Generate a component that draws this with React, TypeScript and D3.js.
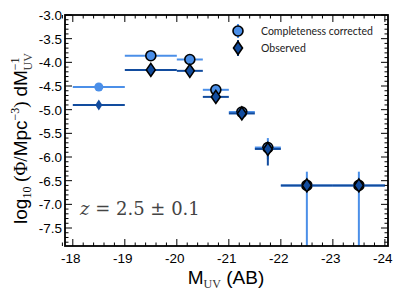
import React, { useRef, useEffect } from "react";
import * as d3 from "d3";

// UV luminosity function bins
const magCenters = [-18.5, -19.5, -20.25, -20.75, -21.25, -21.75, -22.5, -23.5];
const binFaint = [-18, -19, -20, -20.5, -21, -21.5, -22, -23];
const binBright = [-19, -20, -20.5, -21, -21.5, -22, -23, -24];

// completeness corrected log10 phi and error range
const phiCorrected = [-4.52, -3.86, -3.94, -4.58, -5.05, -5.8, -6.6, -6.6];
const phiCorrectedUpper = [-4.52, -3.86, -3.94, -4.58, -5.05, -5.6, -6.31, -6.31];
const phiCorrectedLower = [-4.52, -3.86, -3.94, -4.58, -5.05, -6.05, -8.5, -8.5];

// observed log10 phi and error range
const phiObserved = [-4.9, -4.16, -4.18, -4.73, -5.08, -5.83, -6.6, -6.6];
const phiObservedUpper = [-4.9, -4.16, -4.18, -4.73, -5.08, -5.72, -6.6, -6.6];
const phiObservedLower = [-4.9, -4.16, -4.18, -4.73, -5.08, -6.18, -6.6, -6.6];

const xTicks = [-18, -19, -20, -21, -22, -23, -24];
const yTicks = [-3.0, -3.5, -4.0, -4.5, -5.0, -5.5, -6.0, -6.5, -7.0, -7.5];

const legendLabels = ["Completeness corrected", "Observed"];

const LIGHT = "#4b8fe8";
const DARK = "#124c9e";

const LuminosityFunction = () => {
  const svgRef = useRef<SVGSVGElement>(null);

  const width = 404;
  const height = 303;
  const marginLeft = 65;
  const marginRight = 16;
  const marginTop = 15;
  const marginBottom = 57;

  useEffect(() => {
    const svg = d3.select(svgRef.current);
    svg.selectAll("*").remove();

    const x = d3.scaleLinear()
      .domain([-17.85, -24.06])
      .range([marginLeft, width - marginRight]);

    const y = d3.scaleLinear()
      .domain([-7.88, -3.0])
      .range([height - marginBottom, marginTop]);

    const x0 = marginLeft, x1 = width - marginRight;
    const y0 = height - marginBottom, y1 = marginTop;

    svg.append("defs").append("clipPath").attr("id", "plotclip")
      .append("rect").attr("x", x0).attr("y", y1).attr("width", x1 - x0).attr("height", y0 - y1);

    const plot = svg.append("g").attr("clip-path", "url(#plotclip)");

    const idx = d3.range(magCenters.length);

    // error bars, corrected first then observed
    const drawErrors = (vals: number[], up: number[], lo: number[], color: string) => {
      plot.append("g").selectAll("line.h").data(idx).join("line")
        .attr("x1", i => x(binFaint[i])).attr("x2", i => x(binBright[i]))
        .attr("y1", i => y(vals[i])).attr("y2", i => y(vals[i]))
        .attr("stroke", color).attr("stroke-width", 2);
      plot.append("g").selectAll("line.v").data(idx.filter(i => up[i] !== lo[i])).join("line")
        .attr("x1", i => x(magCenters[i])).attr("x2", i => x(magCenters[i]))
        .attr("y1", i => y(up[i])).attr("y2", i => y(lo[i]))
        .attr("stroke", color).attr("stroke-width", 2);
    };

    drawErrors(phiCorrected, phiCorrectedUpper, phiCorrectedLower, LIGHT);

    plot.append("g").selectAll("circle").data(idx).join("circle")
      .attr("cx", i => x(magCenters[i]))
      .attr("cy", i => y(phiCorrected[i]))
      .attr("r", i => (i === 0 ? 4.5 : 5))
      .attr("fill", LIGHT)
      .attr("stroke", i => (i === 0 ? "none" : "#000"))
      .attr("stroke-width", 1.6);

    drawErrors(phiObserved, phiObservedUpper, phiObservedLower, DARK);

    const diamond = (cx: number, cy: number, w: number, h: number) =>
      `M${cx},${cy - h}L${cx + w},${cy}L${cx},${cy + h}L${cx - w},${cy}Z`;

    plot.append("g").selectAll("path").data(idx).join("path")
      .attr("d", i => diamond(x(magCenters[i]), y(phiObserved[i]), i === 0 ? 3.5 : 4.5, i === 0 ? 5.5 : 6.5))
      .attr("fill", DARK)
      .attr("stroke", i => (i === 0 ? "none" : "#000"))
      .attr("stroke-width", 1.6);

    // ticks on all four sides, pointing inward
    const ticks = svg.append("g").attr("stroke", "#000").attr("stroke-width", 1);
    const xMinor = d3.range(-17.8, -24.05, -0.2).filter(v => Math.abs(v - Math.round(v)) > 0.01);
    const yMinor = d3.range(-7.8, -2.95, 0.1).filter(v => Math.abs(v * 2 - Math.round(v * 2)) > 0.01);

    xTicks.forEach(v => {
      ticks.append("line").attr("x1", x(v)).attr("x2", x(v)).attr("y1", y0).attr("y2", y0 - 7);
      ticks.append("line").attr("x1", x(v)).attr("x2", x(v)).attr("y1", y1).attr("y2", y1 + 7);
    });
    xMinor.forEach(v => {
      ticks.append("line").attr("x1", x(v)).attr("x2", x(v)).attr("y1", y0).attr("y2", y0 - 3.5);
      ticks.append("line").attr("x1", x(v)).attr("x2", x(v)).attr("y1", y1).attr("y2", y1 + 3.5);
    });
    yTicks.forEach(v => {
      ticks.append("line").attr("x1", x0).attr("x2", x0 + 7).attr("y1", y(v)).attr("y2", y(v));
      ticks.append("line").attr("x1", x1).attr("x2", x1 - 7).attr("y1", y(v)).attr("y2", y(v));
    });
    yMinor.forEach(v => {
      ticks.append("line").attr("x1", x0).attr("x2", x0 + 3.5).attr("y1", y(v)).attr("y2", y(v));
      ticks.append("line").attr("x1", x1).attr("x2", x1 - 3.5).attr("y1", y(v)).attr("y2", y(v));
    });

    svg.append("rect")
      .attr("x", x0).attr("y", y1).attr("width", x1 - x0).attr("height", y0 - y1)
      .attr("fill", "none").attr("stroke", "#000").attr("stroke-width", 1.8);

    // tick labels
    const tickFont = "'Liberation Sans', Arial, sans-serif";
    svg.append("g").selectAll("text").data(xTicks).join("text")
      .attr("x", d => x(d) - 2).attr("y", y0 + 17)
      .attr("text-anchor", "middle")
      .attr("font-family", tickFont).attr("font-size", 13.5)
      .text(d => `${d}`);

    svg.append("g").selectAll("text").data(yTicks).join("text")
      .attr("x", x0 - 3).attr("y", d => y(d) + 5)
      .attr("text-anchor", "end")
      .attr("font-family", tickFont).attr("font-size", 13.5)
      .text(d => d.toFixed(1));

    // x axis label
    const xl = svg.append("text")
      .attr("x", 226).attr("y", 284)
      .attr("text-anchor", "middle")
      .attr("font-family", tickFont).attr("font-size", 19);
    xl.append("tspan").text("M");
    xl.append("tspan").attr("font-family", "'Liberation Serif', serif").attr("font-size", 12)
      .attr("dy", 4).attr("fill", "#333").text("UV");
    xl.append("tspan").attr("dy", -4).text(" (AB)");

    // y axis label
    const serif = "'Liberation Serif', serif";
    const yl = svg.append("text")
      .attr("transform", `translate(27,${(y0 + y1) / 2 + 8}) rotate(-90)`)
      .attr("text-anchor", "middle")
      .attr("font-family", tickFont).attr("font-size", 19);
    yl.append("tspan").text("log");
    yl.append("tspan").attr("font-family", serif).attr("font-size", 12)
      .attr("dy", 4).text("10");
    yl.append("tspan").attr("dy", -4).attr("font-family", serif).text(" (Φ/");
    yl.append("tspan").text("Mpc");
    yl.append("tspan").attr("font-size", 12).attr("dy", -8).attr("font-family", serif).text("−3");
    yl.append("tspan").attr("dy", 8).attr("font-family", serif).text(") ");
    yl.append("tspan").text("dM");
    yl.append("tspan").attr("font-size", 12).attr("dy", -8).attr("font-family", serif).text("−1");
    yl.append("tspan").attr("font-size", 12).attr("dx", -13).attr("dy", 13).attr("font-family", serif).attr("fill", "#444").text("UV");

    // redshift annotation
    const zt = svg.append("text")
      .attr("x", 80).attr("y", 215)
      .attr("font-family", "'DejaVu Serif', serif").attr("font-size", 18)
      .attr("fill", "#444");
    zt.append("tspan").attr("font-style", "italic").text("z");
    zt.append("tspan").text(" = 2.5 ± 0.1");

    // legend
    const legend = svg.append("g");
    const lx = 238;
    const ly = [31, 48];
    legend.append("line").attr("x1", lx).attr("x2", lx).attr("y1", ly[0] - 7).attr("y2", ly[0] + 7)
      .attr("stroke", LIGHT).attr("stroke-width", 2);
    legend.append("circle").attr("cx", lx).attr("cy", ly[0]).attr("r", 5)
      .attr("fill", LIGHT).attr("stroke", "#000").attr("stroke-width", 1.6);
    legend.append("line").attr("x1", lx).attr("x2", lx).attr("y1", ly[1] - 8).attr("y2", ly[1] + 8)
      .attr("stroke", DARK).attr("stroke-width", 2);
    legend.append("path").attr("d", diamond(lx, ly[1], 4.5, 6.5))
      .attr("fill", DARK).attr("stroke", "#000").attr("stroke-width", 1.6);
    legend.selectAll("text").data(legendLabels).join("text")
      .attr("x", 261).attr("y", (d, i) => ly[i] + 4)
      .attr("font-family", "Lato, 'Open Sans', sans-serif").attr("font-size", 10.5)
      .attr("fill", "#222")
      .text(d => d);
  }, []);

  return (
    <svg
      ref={svgRef}
      width={width}
      height={height}
      style={{ position: "absolute", left: 0, top: 0, background: "#fff" }}
    />
  );
};

export default function App() {
  return <LuminosityFunction />;
}
